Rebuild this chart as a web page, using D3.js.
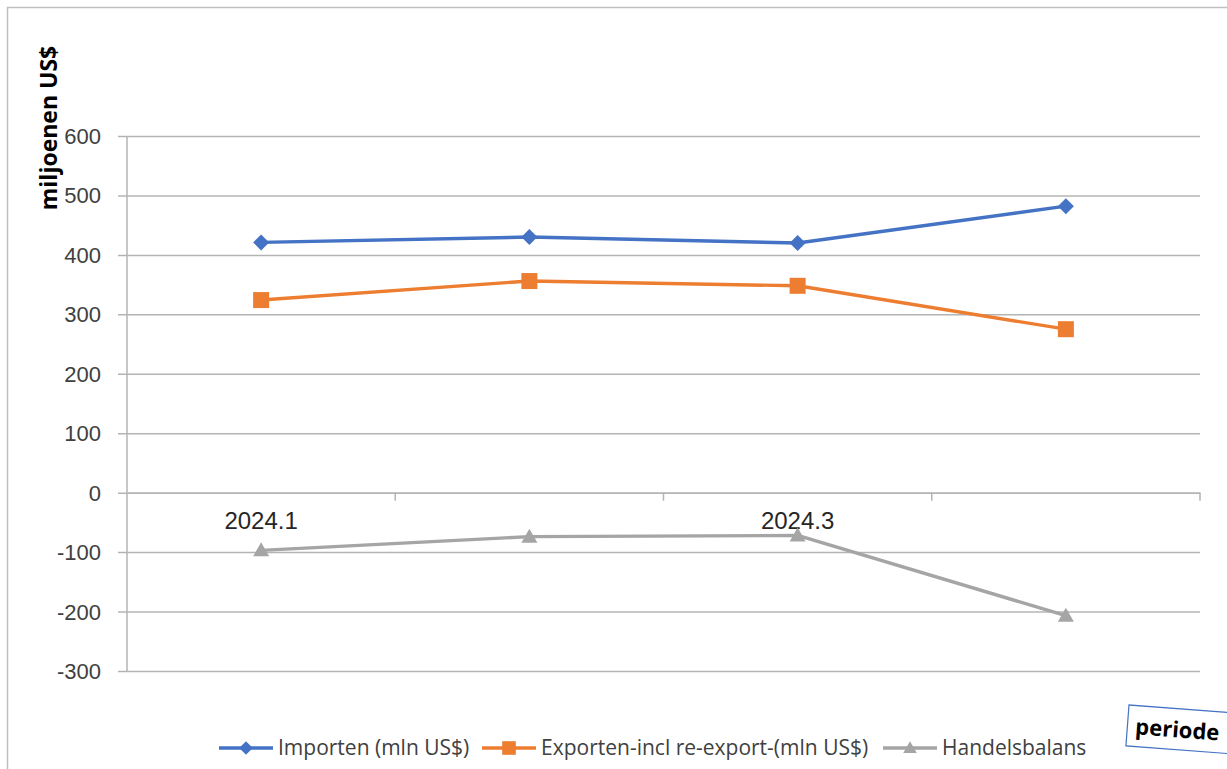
<!DOCTYPE html>
<html>
<head>
<meta charset="utf-8">
<script src="https://cdn.jsdelivr.net/npm/d3@7"></script>
<style>
  html, body { margin: 0; padding: 0; background: #fff; overflow: hidden; }
  svg { display: block; font-family: "Open Sans", "Noto Sans", sans-serif; }
</style>
</head>
<body>
<svg id="chart" width="1227" height="769"></svg>
<script>
const categories = ["2024.1", "2024.2", "2024.3", "2024.4"];
const shownLabels = ["2024.1", "2024.3"];
const importen = [421, 430, 420, 482];
const exporten = [324, 356, 348, 275];
const handelsbalans = [-97, -74, -72, -207];
const yTicks = [600, 500, 400, 300, 200, 100, 0, -100, -200, -300];
const seriesNames = ["Importen (mln US$)", "Exporten-incl re-export-(mln US$)", "Handelsbalans"];
const yTitle = "miljoenen US$";
const xTitle = "periode";

const series = [
  { name: seriesNames[0], values: importen, color: "#4472C4", marker: "diamond" },
  { name: seriesNames[1], values: exporten, color: "#ED7D31", marker: "square" },
  { name: seriesNames[2], values: handelsbalans, color: "#A5A5A5", marker: "triangle" }
];

const svg = d3.select("#chart");
const pLeft = 127, pRight = 1200, pTop = 136, pBottom = 671;

// chart border
svg.append("rect").attr("x", 7.5).attr("y", 7.5).attr("width", 1260).attr("height", 800)
  .attr("fill", "none").attr("stroke", "#bfbfbf").attr("stroke-width", 1.5);

const x = d3.scaleBand().domain(categories).range([pLeft, pRight]);
const y = d3.scaleLinear().domain([-300, 600]).range([pBottom, pTop]);

// gridlines + y ticks
const yAxis = d3.axisLeft(y).tickValues(yTicks).tickSize(-(pRight - pLeft)).tickPadding(18)
  .tickFormat(d => String(d));
const gy = svg.append("g").attr("transform", `translate(${pLeft},0)`).call(yAxis);
gy.select(".domain").remove();
gy.selectAll(".tick line").attr("stroke", "#b4b4b4").attr("stroke-width", 1.5)
  .attr("x1", -9);
gy.selectAll(".tick text").attr("fill", "#404040").style("font-size", "22px")
  .attr("x", -26).attr("dy", "0.34em");
svg.append("line").attr("x1", pLeft).attr("x2", pLeft).attr("y1", pTop).attr("y2", pBottom)
  .attr("stroke", "#b4b4b4").attr("stroke-width", 1.5);

// category axis at zero
const xAxis = d3.axisBottom(x).tickSizeOuter(0).tickSizeInner(0)
  .tickFormat(d => shownLabels.includes(d) ? d : "");
const gx = svg.append("g").attr("transform", `translate(0,${y(0)})`).call(xAxis);
gx.select(".domain").attr("stroke", "#b4b4b4").attr("stroke-width", 1.5);
gx.selectAll(".tick line").remove();
gx.selectAll(".tick text").attr("fill", "#262626").style("font-size", "24px").attr("y", 19);
// boundary ticks
const bounds = categories.map(c => x(c)).concat([pRight]);
gx.selectAll(".btick").data(bounds.slice(1)).join("line")
  .attr("x1", d => d).attr("x2", d => d).attr("y1", 0).attr("y2", 8)
  .attr("stroke", "#b4b4b4").attr("stroke-width", 1.5);

const cx = d => x(d) + x.bandwidth() / 2;

function drawMarker(g, type, color, px, py, scale) {
  scale = scale || 1;
  const r = 8 * scale;
  if (type === "diamond") {
    g.append("path").attr("d", `M${px},${py - r}L${px + r},${py}L${px},${py + r}L${px - r},${py}Z`)
      .attr("fill", color);
  } else if (type === "square") {
    g.append("rect").attr("x", px - r).attr("y", py - r).attr("width", 2 * r).attr("height", 2 * r)
      .attr("fill", color);
  } else {
    g.append("path").attr("d", `M${px},${py - r}L${px + r},${py + r * 0.75}L${px - r},${py + r * 0.75}Z`)
      .attr("fill", color);
  }
}

const line = d3.line().x((d, i) => cx(categories[i])).y(d => y(d));
series.forEach(s => {
  const g = svg.append("g");
  g.append("path").datum(s.values).attr("d", line).attr("fill", "none")
    .attr("stroke", s.color).attr("stroke-width", 3.4).attr("stroke-linejoin", "round");
  s.values.forEach((v, i) => drawMarker(g, s.marker, s.color, cx(categories[i]), y(v), 1));
});

// y title
svg.append("text").attr("transform", `translate(57,128) rotate(-90)`)
  .attr("text-anchor", "middle").attr("fill", "#000").style("font-size", "23px")
  .style("font-weight", "bold").text(yTitle);

// legend
const legendItems = [
  { s: series[0], lx: 219 },
  { s: series[1], lx: 482 },
  { s: series[2], lx: 883 }
];
const ly = 748;
legendItems.forEach(it => {
  const g = svg.append("g");
  g.append("line").attr("x1", it.lx).attr("x2", it.lx + 54).attr("y1", ly).attr("y2", ly)
    .attr("stroke", it.s.color).attr("stroke-width", 3.4);
  drawMarker(g, it.s.marker, it.s.color, it.lx + 27, ly, 0.85);
  g.append("text").attr("x", it.lx + 59).attr("y", ly).attr("dy", "0.35em")
    .attr("fill", "#404040").style("font-size", "21px").text(it.s.name);
});

// periode box
const pg = svg.append("g").attr("transform", "translate(1129,705) rotate(4.3)");
pg.append("rect").attr("x", 0).attr("y", 0).attr("width", 130).attr("height", 41)
  .attr("fill", "#fff").attr("stroke", "#4472C4").attr("stroke-width", 1.2);
pg.append("text").attr("x", 8).attr("y", 21).attr("dy", "0.35em").attr("fill", "#000")
  .style("font-size", "22px").style("font-weight", "bold").text(xTitle);
</script>
</body>
</html>
